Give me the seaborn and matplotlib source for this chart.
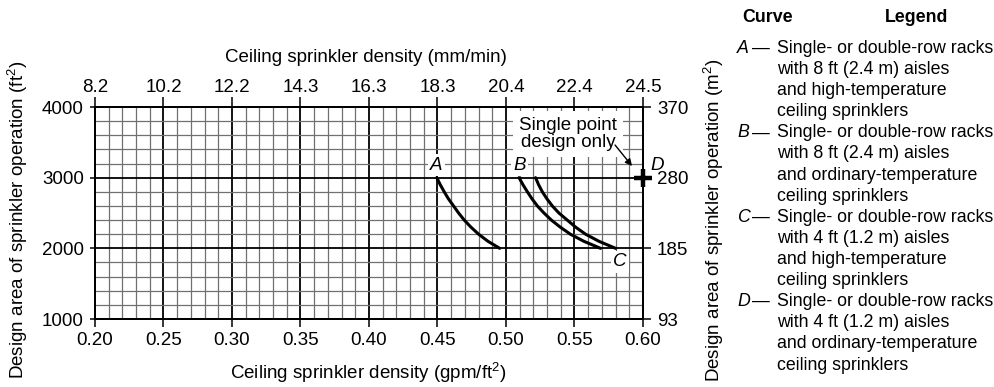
import numpy as np
import pandas as pd
import matplotlib
matplotlib.use("Agg")
import matplotlib.pyplot as plt
import seaborn as sns

# ---------------- data ----------------
curve_a_density = [0.4495, 0.452, 0.4549, 0.458, 0.4617, 0.4654, 0.4695, 0.4744, 0.480, 0.4868, 0.4954]
curve_a_area = [3000, 2900, 2800, 2700, 2600, 2500, 2400, 2300, 2200, 2100, 2000]
curve_b_density = [0.5095, 0.5124, 0.5156, 0.519, 0.5229, 0.5277, 0.5331, 0.5396, 0.547, 0.5568, 0.569]
curve_b_area = [3000, 2900, 2800, 2700, 2600, 2500, 2400, 2300, 2200, 2100, 2000]
curve_c_density = [0.5216, 0.5238, 0.5265, 0.5299, 0.5338, 0.5386, 0.5447, 0.5508, 0.5581, 0.5678, 0.580]
curve_c_area = [3000, 2900, 2800, 2700, 2600, 2500, 2400, 2300, 2200, 2100, 2000]
point_d_density = [0.60]
point_d_area = [3000]

bottom_ticks = [0.20, 0.25, 0.30, 0.35, 0.40, 0.45, 0.50, 0.55, 0.60]
bottom_labels = ["0.20", "0.25", "0.30", "0.35", "0.40", "0.45", "0.50", "0.55", "0.60"]
top_labels = ["8.2", "10.2", "12.2", "14.3", "16.3", "18.3", "20.4", "22.4", "24.5"]
left_ticks = [1000, 2000, 3000, 4000]
left_labels = ["1000", "2000", "3000", "4000"]
right_labels = ["93", "185", "280", "370"]

legend_letters = ["A", "B", "C", "D"]
legend_lines = [
    ["Single- or double-row racks", "with 8 ft (2.4 m) aisles", "and high-temperature", "ceiling sprinklers"],
    ["Single- or double-row racks", "with 8 ft (2.4 m) aisles", "and ordinary-temperature", "ceiling sprinklers"],
    ["Single- or double-row racks", "with 4 ft (1.2 m) aisles", "and high-temperature", "ceiling sprinklers"],
    ["Single- or double-row racks", "with 4 ft (1.2 m) aisles", "and ordinary-temperature", "ceiling sprinklers"],
]

df = pd.concat([
    pd.DataFrame({"curve": "A", "density": curve_a_density, "area": curve_a_area}),
    pd.DataFrame({"curve": "B", "density": curve_b_density, "area": curve_b_area}),
    pd.DataFrame({"curve": "C", "density": curve_c_density, "area": curve_c_area}),
], ignore_index=True)
df_d = pd.DataFrame({"density": point_d_density, "area": point_d_area})

# ---------------- style ----------------
sns.set_theme(style="white")
plt.rcParams["font.family"] = ["Liberation Sans", "DejaVu Sans"]
plt.rcParams["mathtext.fontset"] = "custom"
plt.rcParams["mathtext.rm"] = "Liberation Sans"
plt.rcParams["mathtext.it"] = "Liberation Sans:italic"
for k in ["text.color", "axes.labelcolor", "xtick.color", "ytick.color", "axes.edgecolor"]:
    plt.rcParams[k] = "black"

W, H = 995, 387
FS = 13.5
LFS = 12.8


def fx(px):
    return px / W


def fy(py):
    return 1 - py / H


fig = plt.figure(figsize=(W / 100, H / 100), dpi=100)
ax = fig.add_axes([fx(95), fy(319), (643 - 95) / W, (319 - 107) / H])

ax.set_xlim(0.20, 0.60)
ax.set_ylim(1000, 4000)
ax.set_xticks(bottom_ticks)
ax.set_xticklabels(bottom_labels)
ax.set_yticks(left_ticks)
ax.set_yticklabels(left_labels)
ax.set_xticks(np.arange(0.20, 0.6001, 0.01), minor=True)
ax.set_yticks(np.arange(1000, 4001, 200), minor=True)
ax.set_axisbelow(True)
ax.grid(which="minor", color="#707070", lw=0.9)
ax.grid(which="major", color="black", lw=1.3)
ax.tick_params(axis="x", which="major", direction="out", length=5.8, width=1.1, pad=3.5, labelsize=FS)
ax.tick_params(axis="y", which="major", direction="out", length=3.6, width=1.1, pad=4.5, labelsize=FS)
ax.tick_params(which="minor", length=0)
for s in ax.spines.values():
    s.set_linewidth(1.3)
    s.set_color("black")

sns.lineplot(data=df, x="density", y="area", units="curve", estimator=None, sort=False,
             color="black", lw=2.2, ax=ax, legend=False)
ax.scatter(df_d["density"], df_d["area"], marker="+", s=170, linewidths=3.2, color="black",
           zorder=6, clip_on=False)
ax.set_xlabel("")
ax.set_ylabel("")

# curve labels
lbl_box = dict(boxstyle="square,pad=0.12", fc="white", ec="none")
ax.text(0.449, 3179, "A", style="italic", ha="center", va="center", fontsize=FS, bbox=lbl_box, zorder=4)
ax.text(0.5102, 3179, "B", style="italic", ha="center", va="center", fontsize=FS, bbox=lbl_box, zorder=4)
ax.text(0.583, 1807, "C", style="italic", ha="center", va="center", fontsize=FS, bbox=lbl_box, zorder=4)
ax.text(0.6102, 3179, "D", style="italic", ha="center", va="center", fontsize=FS, clip_on=False, zorder=4)

ax.text(0.5453, 3618, "Single point\ndesign only", ha="center", va="center", fontsize=FS,
        linespacing=1.05, bbox=dict(boxstyle="square,pad=0.3", fc="white", ec="none"), zorder=4)
ax.annotate("", xy=(0.592, 3165), xytext=(0.5796, 3462),
            arrowprops=dict(arrowstyle="-|>", lw=1.0, color="black", mutation_scale=10,
                            shrinkA=0, shrinkB=0), zorder=5)

# top axis
ax_t = ax.twiny()
ax_t.set_xlim(ax.get_xlim())
ax_t.set_xticks(bottom_ticks)
ax_t.set_xticklabels(top_labels)
ax_t.tick_params(axis="x", direction="out", length=7.2, width=1.1, pad=0.5, labelsize=FS)
ax_t.grid(False)

# right axis
ax_r = ax.twinx()
ax_r.set_ylim(ax.get_ylim())
ax_r.set_yticks(left_ticks)
ax_r.set_yticklabels(right_labels)
ax_r.tick_params(axis="y", direction="out", length=5.8, width=1.1, pad=4.3, labelsize=FS)
ax_r.grid(False)
for a in (ax_t, ax_r):
    for s in a.spines.values():
        s.set_linewidth(1.3)

# axis titles
fig.text(fx(368), fy(373), "Ceiling sprinkler density (gpm/ft$^{2}$)", ha="center", va="center", fontsize=FS)
fig.text(fx(366), fy(57), "Ceiling sprinkler density (mm/min)", ha="center", va="center", fontsize=FS)
fig.text(fx(18), fy(220), "Design area of sprinkler operation (ft$^{2}$)", ha="center", va="center",
         rotation=90, fontsize=FS)
fig.text(fx(714), fy(220), "Design area of sprinkler operation (m$^{2}$)", ha="center", va="center",
         rotation=90, fontsize=FS)

# legend block
fig.text(fx(742), fy(22), "Curve", ha="left", va="baseline", fontsize=LFS, fontweight="bold")
fig.text(fx(885), fy(22), "Legend", ha="left", va="baseline", fontsize=LFS, fontweight="bold")
base = 53
step = 21.1
k = 0
for letter, lines in zip(legend_letters, legend_lines):
    yb = base + step * k
    fig.text(fx(737), fy(yb), letter, ha="left", va="baseline", fontsize=LFS, style="italic")
    fig.text(fx(752), fy(yb), "\u2014", ha="left", va="baseline", fontsize=LFS)
    for line in lines:
        fig.text(fx(777), fy(base + step * k), line, ha="left", va="baseline", fontsize=LFS)
        k += 1

fig.savefig("out.png", dpi=100)
